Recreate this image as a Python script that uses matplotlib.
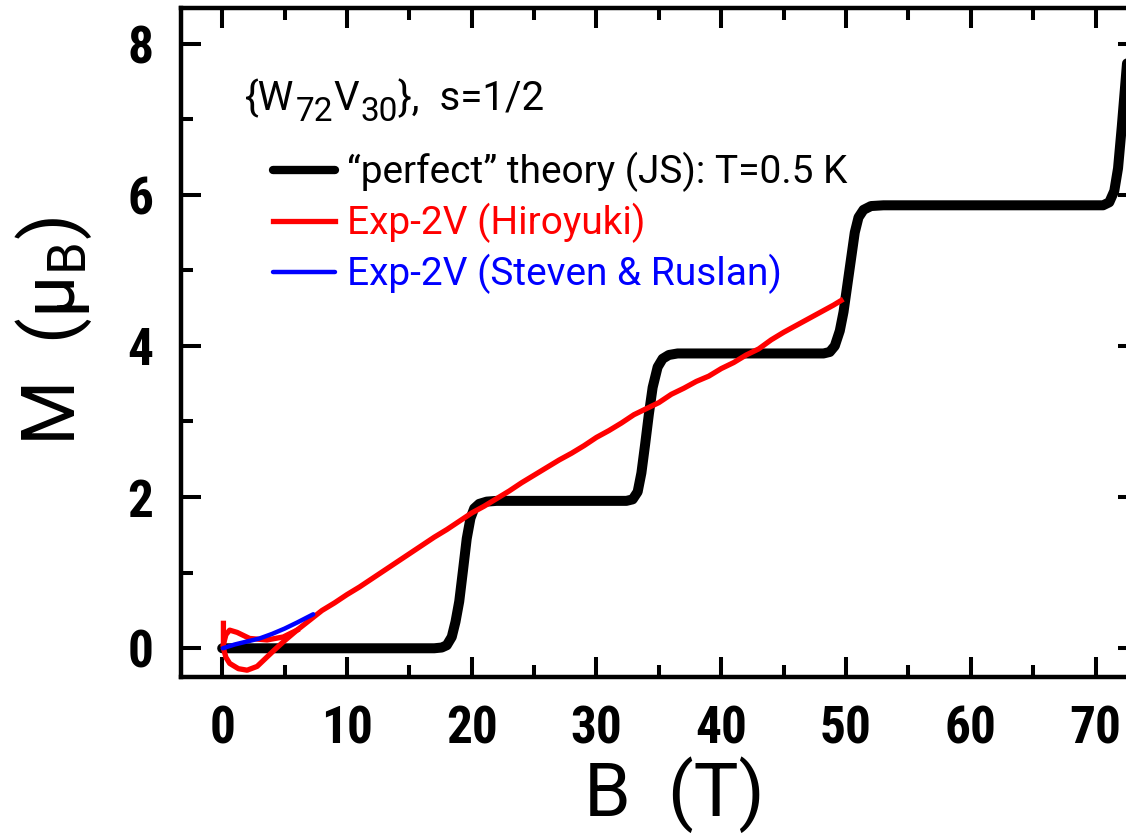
import matplotlib
matplotlib.use("Agg")
import matplotlib.pyplot as plt
from matplotlib import font_manager

# ---------------- data ----------------
theory_B = [0.0, 17.0, 17.6, 18.0, 18.4, 18.7, 19.0, 19.3, 19.6, 19.9, 20.2, 20.6, 21.2, 22.0,
            32.4, 32.9, 33.3, 33.6, 33.9, 34.2, 34.5, 34.9, 35.3, 35.8, 36.5,
            48.2, 48.7, 49.1, 49.5, 49.8, 50.1, 50.4, 50.7, 51.0, 51.4, 52.0, 53.0,
            70.6, 71.1, 71.5, 71.8, 72.1, 72.4, 72.8]
theory_M = [0.0, 0.0, 0.01, 0.04, 0.15, 0.35, 0.62, 1.03, 1.45, 1.72, 1.85, 1.91, 1.94, 1.95,
            1.95, 1.97, 2.07, 2.32, 2.70, 3.10, 3.45, 3.72, 3.83, 3.88, 3.90,
            3.90, 3.92, 4.00, 4.20, 4.45, 4.80, 5.15, 5.50, 5.70, 5.80, 5.85, 5.86,
            5.86, 5.90, 6.05, 6.35, 6.90, 7.50, 8.30]

hiro_up_B = [0.1, 0.1, 0.3, 0.6, 1.3, 2.0, 2.8, 3.5, 4.2, 5.0, 6.0, 7.0,
             8, 9, 10, 11, 12, 13, 14, 15, 16, 17, 18, 19, 20, 21, 22, 23, 24, 25,
             26, 27, 28, 29, 30, 31, 32, 33, 34, 35, 36, 37, 38, 39, 40, 41, 42, 43,
             44, 45, 46, 47, 48, 49, 49.6]
hiro_up_M = [0.33, 0.0, -0.12, -0.20, -0.27, -0.29, -0.24, -0.13, -0.02, 0.10, 0.24, 0.37,
             0.50, 0.60, 0.71, 0.81, 0.92, 1.03, 1.14, 1.25, 1.36, 1.47, 1.57, 1.68, 1.79,
             1.88, 1.98, 2.08, 2.19, 2.29, 2.39, 2.49, 2.58, 2.68, 2.79, 2.88, 2.98, 3.09,
             3.17, 3.25, 3.36, 3.44, 3.53, 3.60, 3.70, 3.78, 3.88, 3.96, 4.08, 4.18, 4.27,
             4.36, 4.45, 4.54, 4.60]
hiro_down_B = [6.0, 4.9, 3.6, 2.2, 1.2, 0.6, 0.3, 0.1]
hiro_down_M = [0.24, 0.15, 0.11, 0.13, 0.21, 0.24, 0.18, 0.05]

sr_B = [0.05, 1.0, 2.0, 3.0, 4.0, 5.0, 6.0, 7.3]
sr_M = [0.0, 0.05, 0.09, 0.13, 0.19, 0.26, 0.34, 0.45]

x_ticks = [0, 10, 20, 30, 40, 50, 60, 70]
y_ticks = [0, 2, 4, 6, 8]

# title pieces: (text, is_subscript)
title_parts = [("{W", False), ("72", True), ("V", False), ("30", True), ("},  s=1/2", False)]
labels = ["\u201cperfect\u201d theory (JS): T=0.5 K", "Exp-2V (Hiroyuki)", "Exp-2V (Steven & Ruslan)"]

# ---------------- style ----------------
avail = {f.name for f in font_manager.fontManager.ttflist}
tick_fam = "Roboto Condensed" if "Roboto Condensed" in avail else "DejaVu Sans"
text_fam = "Roboto" if "Roboto" in avail else "DejaVu Sans"
plt.rcParams['font.family'] = [text_fam, 'DejaVu Sans']
plt.rcParams['mathtext.fontset'] = 'custom'
plt.rcParams['mathtext.rm'] = text_fam
plt.rcParams['mathtext.it'] = text_fam
plt.rcParams['mathtext.default'] = 'rm'

fig = plt.figure(figsize=(11.26, 8.35), dpi=100)
ax = fig.add_axes([181/1126, 1 - 677/835, (1138-181)/1126, (677-8)/835])

l1, = ax.plot(theory_B, theory_M, color='black', lw=7.2, solid_capstyle='round', solid_joinstyle='round', zorder=2)
l2, = ax.plot(hiro_up_B, hiro_up_M, color='#ff0000', lw=3.8, solid_joinstyle='round', zorder=3)
ax.plot(hiro_down_B, hiro_down_M, color='#ff0000', lw=3.8, solid_joinstyle='round', zorder=3)
l3, = ax.plot(sr_B, sr_M, color='#0000ff', lw=3.2, solid_capstyle='round', zorder=4)

ax.set_xlim(-3.3, 73.4)
ax.set_ylim(-0.38, 8.47)
ax.set_xticks(x_ticks)
ax.set_yticks(y_ticks)
ax.set_xticks([5, 15, 25, 35, 45, 55, 65], minor=True)
ax.set_yticks([1, 3, 5, 7], minor=True)
ax.set_xticklabels([str(v) for v in x_ticks], family=[tick_fam, 'DejaVu Sans'],
                   fontweight='bold', fontstretch='condensed', fontsize=37)
ax.set_yticklabels([str(v) for v in y_ticks], family=[tick_fam, 'DejaVu Sans'],
                   fontweight='bold', fontstretch='condensed', fontsize=37)
ax.tick_params(which='both', direction='in', top=True, right=True, width=2.9)
ax.tick_params(which='major', length=14.5, pad=20)
ax.tick_params(which='minor', length=8.5)
for s in ax.spines.values():
    s.set_linewidth(3.2)

ax.set_xlabel("B  (T)", fontsize=54)
ax.xaxis.set_label_coords(0.516, -0.118)
ax.set_ylabel("M  (\u03bc$_{B}$)", fontsize=54)
ax.yaxis.set_label_coords(-0.091, 0.517)

# title built from pieces (large subscripts, as in the original)
prev = ax.text(0.067, 0.8475, title_parts[0][0], transform=ax.transAxes,
               fontsize=29, va='baseline', ha='left')
prev_sub = False
for txt, sub in title_parts[1:]:
    dy = -7 if sub else 0
    if prev_sub:
        dy += 7
    prev = ax.annotate(txt, xy=(1, 0), xycoords=prev, xytext=(1 if sub else 0, dy),
                       textcoords='offset points', fontsize=24 if sub else 29,
                       va='bottom', ha='left')
    prev_sub = sub

leg = ax.legend([l1, l2, l3], labels, loc='upper left', bbox_to_anchor=(0.096, 0.785),
                frameon=False, fontsize=28, handlelength=1.6, handletextpad=0.3,
                labelspacing=0.28, borderpad=0, borderaxespad=0, labelcolor='linecolor')
leg.get_lines()[0].set_linewidth(6)

fig.savefig("out.png", dpi=100)
